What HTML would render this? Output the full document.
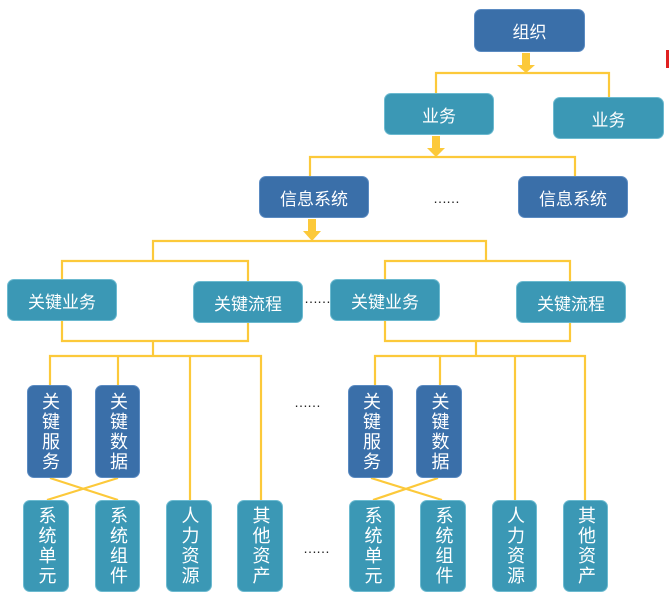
<!DOCTYPE html>
<html><head><meta charset="utf-8"><style>
body{margin:0;width:669px;height:605px;background:#fff;position:relative;overflow:hidden;font-family:"Liberation Sans","Noto Sans CJK SC",sans-serif}
.b{position:absolute;border-radius:7px;color:#fff;display:flex;align-items:center;justify-content:center;font-size:17px;box-sizing:border-box}
.d{background:#3a6fa9;border:1px solid #5b8bc2}
.t{background:#3b98b5;border:1px solid #6cbad0}
.v{flex-direction:column;font-size:18px;line-height:21px;writing-mode:vertical-rl;letter-spacing:2px}
svg{position:absolute;left:0;top:0}
.dots{position:absolute;font-size:14px;color:#222;letter-spacing:-1px}
</style></head><body>
<svg width="669" height="605">
<g stroke="#fcc93a" stroke-width="2.2" fill="none">
<polyline points="436,93 436,73 609,73 609,97"/>
<polyline points="310,176 310,157 575,157 575,176"/>
<polyline points="153,261 153,241 486,241 486,261"/>
<polyline points="62,279 62,261 248,261 248,281"/>
<polyline points="385,279 385,261 570,261 570,281"/>
<polyline points="62,321 62,341 248,341 248,323"/>
<line x1="153" y1="341" x2="153" y2="356"/>
<polyline points="50,385 50,356 261,356 261,500"/>
<line x1="118" y1="356" x2="118" y2="385"/>
<line x1="190" y1="356" x2="190" y2="500"/>
<polyline points="385,321 385,341 570,341 570,323"/>
<line x1="476" y1="341" x2="476" y2="356"/>
<polyline points="375,385 375,356 585,356 585,500"/>
<line x1="440" y1="356" x2="440" y2="385"/>
<line x1="515" y1="356" x2="515" y2="500"/>
<line x1="50" y1="478" x2="118" y2="500"/>
<line x1="118" y1="478" x2="47" y2="500"/>
<line x1="371" y1="478" x2="442" y2="500"/>
<line x1="438" y1="478" x2="373" y2="500"/>
</g>
<g fill="#fcc93a">
<rect x="522" y="53" width="8" height="13"/><polygon points="517,65 535,65 526,73"/>
<rect x="432" y="136" width="8" height="13"/><polygon points="427,148 445,148 436,157"/>
<rect x="308" y="219" width="8" height="13"/><polygon points="303,231 321,231 312,241"/>
</g>
<rect x="666" y="50" width="3" height="18" fill="#e02020"/>
</svg>
<div class="b d" style="left:474px;top:9px;width:111px;height:43px">组织</div>
<div class="b t" style="left:384px;top:93px;width:110px;height:42px">业务</div>
<div class="b t" style="left:553px;top:97px;width:111px;height:42px">业务</div>
<div class="b d" style="left:259px;top:176px;width:110px;height:42px">信息系统</div>
<div class="b d" style="left:518px;top:176px;width:110px;height:42px">信息系统</div>
<div class="dots" style="left:433px;top:190px">……</div>
<div class="b t" style="left:7px;top:279px;width:110px;height:42px">关键业务</div>
<div class="b t" style="left:193px;top:281px;width:110px;height:42px">关键流程</div>
<div class="dots" style="left:304px;top:290px">……</div>
<div class="b t" style="left:330px;top:279px;width:110px;height:42px">关键业务</div>
<div class="b t" style="left:516px;top:281px;width:110px;height:42px">关键流程</div>
<div class="b d v" style="left:27px;top:385px;width:45px;height:93px">关键服务</div>
<div class="b d v" style="left:95px;top:385px;width:45px;height:93px">关键数据</div>
<div class="b d v" style="left:348px;top:385px;width:45px;height:93px">关键服务</div>
<div class="b d v" style="left:416px;top:385px;width:46px;height:93px">关键数据</div>
<div class="dots" style="left:294px;top:394px">……</div>
<div class="b t v" style="left:23px;top:500px;width:46px;height:92px">系统单元</div>
<div class="b t v" style="left:95px;top:500px;width:45px;height:92px">系统组件</div>
<div class="b t v" style="left:166px;top:500px;width:46px;height:92px">人力资源</div>
<div class="b t v" style="left:237px;top:500px;width:46px;height:92px">其他资产</div>
<div class="dots" style="left:303px;top:540px">……</div>
<div class="b t v" style="left:349px;top:500px;width:46px;height:92px">系统单元</div>
<div class="b t v" style="left:420px;top:500px;width:46px;height:92px">系统组件</div>
<div class="b t v" style="left:492px;top:500px;width:45px;height:92px">人力资源</div>
<div class="b t v" style="left:563px;top:500px;width:45px;height:92px">其他资产</div>
</body></html>
